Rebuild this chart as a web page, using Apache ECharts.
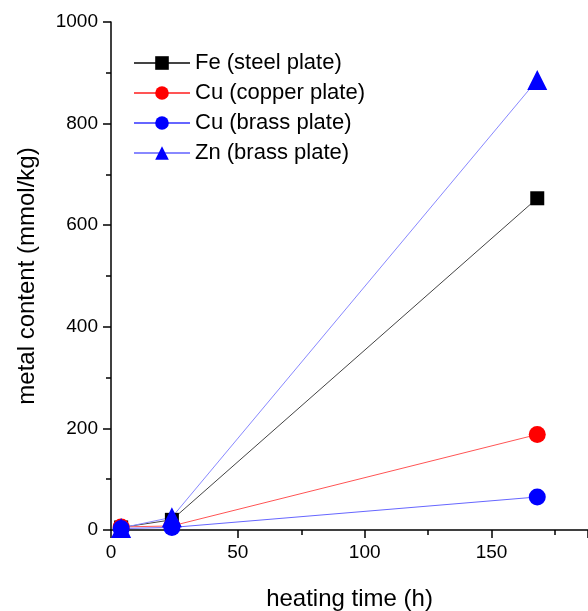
<!DOCTYPE html>
<html lang="en">
  <head>
    <meta charset="UTF-8" />
    <title>metal content vs heating time</title>
    <script src="https://cdn.jsdelivr.net/npm/echarts@6/dist/echarts.min.js"></script>
  </head>
  <body style="margin:0">
    <div id="container" style="width: 588px;height: 611px"></div>
    <script>
      // heating time (h) and metal content (mmol/kg)
      var hours = [4, 24, 168]
      var feSteel = [5, 20, 653]
      var cuCopper = [6, 8, 188]
      var cuBrass = [3, 5, 65]
      var znBrass = [4, 25, 886]
      var names = ['Fe (steel plate)', 'Cu (copper plate)', 'Cu (brass plate)', 'Zn (brass plate)']

      function pairs(vals) {
        return hours.map(function (h, i) { return [h, vals[i]] })
      }

      var font = 'Liberation Sans, Arial, sans-serif'
      var myChart = echarts.init(document.querySelector('#container'))

      function mk(name, vals, line, fill, symbol, size) {
        return {
          name: name,
          type: 'line',
          data: pairs(vals),
          symbol: symbol,
          symbolSize: size,
          lineStyle: { color: line, width: 1 },
          itemStyle: { color: fill },
          emphasis: { disabled: true }
        }
      }

      myChart.setOption({
        backgroundColor: '#fff',
        animation: false,
        grid: { left: 111, top: 22, right: 0, bottom: 81, outerBoundsMode: 'none' },
        legend: {
          left: 128,
          top: 47,
          orient: 'vertical',
          itemGap: 8,
          itemWidth: 56,
          itemHeight: 17,
          textStyle: { fontFamily: font, fontSize: 22, color: '#000' },
          data: names
        },
        xAxis: {
          type: 'value',
          min: 0,
          max: 188,
          interval: 50,
          name: 'heating time (h)',
          nameLocation: 'middle',
          nameGap: 57,
          nameTextStyle: { fontFamily: font, fontSize: 24, color: '#000' },
          axisLine: { onZero: false, lineStyle: { color: '#000', width: 1.5 } },
          axisTick: { length: 8, lineStyle: { color: '#000', width: 1.5 } },
          minorTick: { show: true, splitNumber: 2, length: 5, lineStyle: { color: '#000', width: 1.5 } },
          axisLabel: { fontFamily: font, fontSize: 19, color: '#000', margin: 13, showMaxLabel: false },
          splitLine: { show: false }
        },
        yAxis: {
          type: 'value',
          min: 0,
          max: 1000,
          interval: 200,
          name: 'metal content (mmol/kg)',
          nameLocation: 'middle',
          nameGap: 72,
          nameTextStyle: { fontFamily: font, fontSize: 24, color: '#000' },
          axisLine: { show: true, lineStyle: { color: '#000', width: 1.5 } },
          axisTick: { length: 8, lineStyle: { color: '#000', width: 1.5 } },
          minorTick: { show: true, splitNumber: 2, length: 5, lineStyle: { color: '#000', width: 1.5 } },
          axisLabel: {
            fontFamily: font, fontSize: 19, color: '#000', margin: 13,
            formatter: function (v) { return String(v) }
          },
          splitLine: { show: false }
        },
        series: [
          mk(names[0], feSteel, '#444', '#000', 'rect', 14),
          mk(names[1], cuCopper, '#f55', '#f00', 'circle', 17),
          mk(names[2], cuBrass, '#66f', '#00f', 'circle', 17),
          mk(names[3], znBrass, '#88f', '#00f', 'triangle', 20)
        ]
      })
    </script>
  </body>
</html>
